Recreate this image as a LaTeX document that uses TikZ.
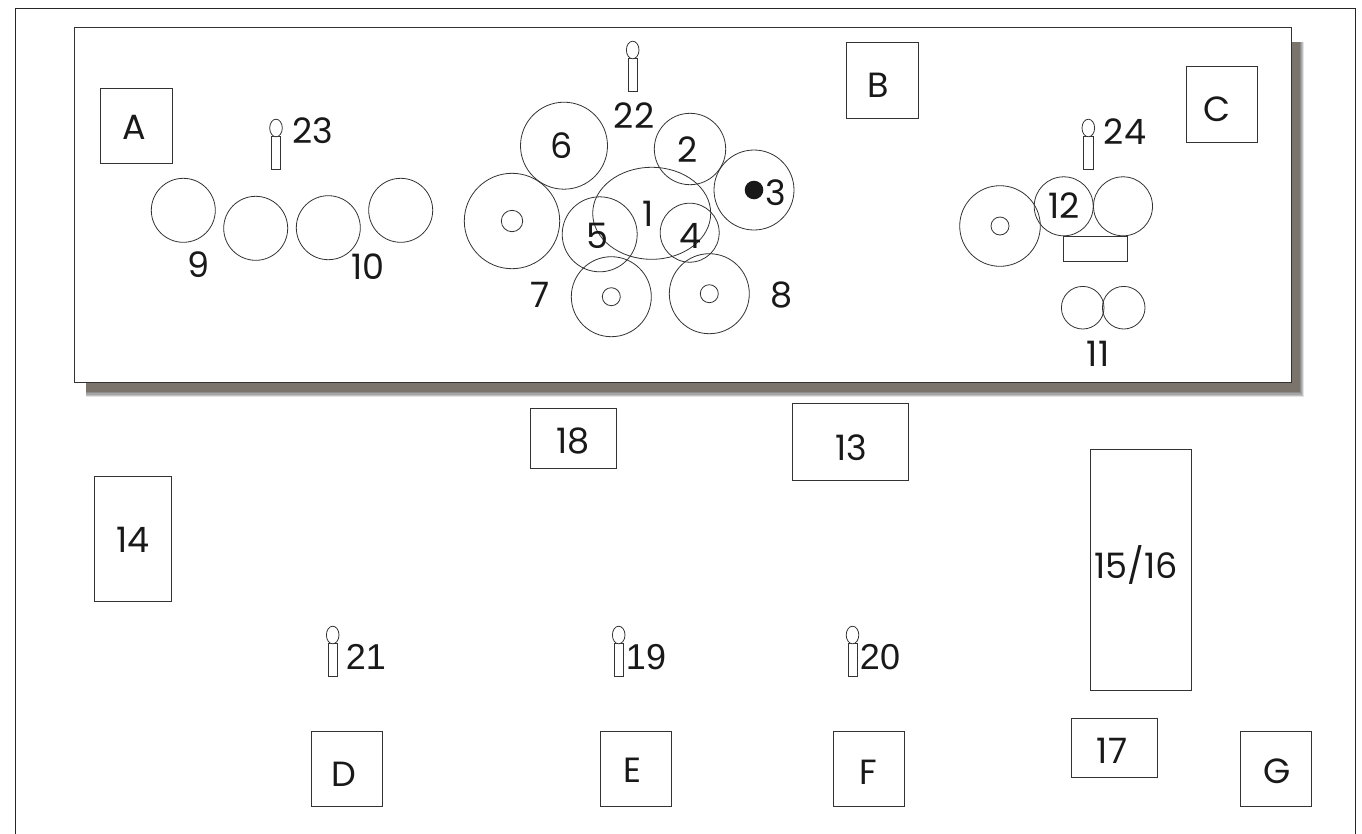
\documentclass[tikz,border=0pt]{standalone}
\usepackage{fontspec}
\setmainfont{Poppins}
\newfontfamily\arialish{Liberation Sans}
\tikzset{
  ln/.style={draw=black!80,line width=0.8pt},
  lab/.style={font=\fontsize{35}{35}\selectfont,text=black!90,inner sep=0pt},
  labb/.style={font=\arialish\fontsize{36}{36}\selectfont,text=black!90,inner sep=0pt},
}
\newcommand{\sensor}[2]{%
  \draw[ln,fill=white] (#1-4.6,#2+8) rectangle (#1+4.6,#2+41.5);
  \draw[ln,fill=white] (#1,#2) ellipse [x radius=6.3,y radius=8.8];
}
\begin{document}
\begin{tikzpicture}[x=1pt,y=-1pt]
\useasboundingbox (0,0) rectangle (1362,833);
\fill[white] (0,0) rectangle (1362,833);
% outer frame
\draw[draw=black!85,line width=0.9pt] (15,840) -- (15,8.5) -- (1355,8.5) -- (1355,840);
% shadow
\fill[black!10] (86,42) rectangle (1304,397);
\fill[black!25] (86,42) rectangle (1303,396);
\fill[black!35!white!100] (86,42) rectangle (1302,395);
\fill[black!45] (86,42) rectangle (1301,393);
\fill[black!45!brown!20!gray] (86,42) rectangle (1300,392);
% panel
\draw[ln,fill=white] (74.5,27.5) rectangle (1291,382);
% boxes
\draw[ln] (100.5,88) rectangle (172,163);
\draw[ln] (846.5,42.5) rectangle (918,118);
\draw[ln] (1186,66.5) rectangle (1257,142);
\draw[ln] (311,731) rectangle (382,806);
\draw[ln] (600,731) rectangle (671,806);
\draw[ln] (833.5,731) rectangle (904,806);
\draw[ln] (1240.5,731) rectangle (1311,806);
\draw[ln] (530,408.5) rectangle (616,468);
\draw[ln] (792.5,403.5) rectangle (908,480);
\draw[ln] (94,476.5) rectangle (171,601);
\draw[ln] (1090,449.5) rectangle (1191,690);
\draw[ln] (1071.5,718.5) rectangle (1157,777);
\draw[ln] (1063.7,236) rectangle (1127,261.7);
% rollers
\draw[ln] (564,145.7) circle (43.5);
\draw[ln] (512,221) circle (47.7);
\draw[ln] (512,221) circle (10.7);
\draw[ln] (690,149) circle (35.7);
\draw[ln] (754,190) circle (40);
\fill[black!90] (754,190) circle (9.3);
\draw[ln] (651.7,213.3) ellipse [x radius=59,y radius=46];
\draw[ln] (599.7,234.3) circle (37.5);
\draw[ln] (689.7,232.7) circle (29.5);
\draw[ln] (611.3,296.7) circle (40);
\draw[ln] (611.3,296.7) circle (9);
\draw[ln] (709.3,293.7) circle (40);
\draw[ln] (709.3,293.7) circle (9);
\draw[ln] (1000,226) circle (40.3);
\draw[ln] (1000,226) circle (9);
\draw[ln] (1063.7,206.3) circle (29.5);
\draw[ln] (1123,206.3) circle (29.5);
\draw[ln] (1082.7,307.7) circle (21.3);
\draw[ln] (1123.7,307.7) circle (21.3);
\draw[ln] (183.3,210.3) circle (32);
\draw[ln] (255.7,228.3) circle (32);
\draw[ln] (328.3,227.7) circle (32);
\draw[ln] (400.7,210.3) circle (32);
% sensors
\sensor{632.7}{50}
\sensor{1088.3}{128}
\sensor{276}{128}
\sensor{332.7}{635}
\sensor{618.7}{635}
\sensor{852.5}{635}
% labels
\node[lab] (lA) at (134,127) {A};
\node[lab] (lB) at (878,85) {B};
\node[lab] (lC) at (1217,109) {C};
\node[lab] (lD) at (344,774) {D};
\node[lab] (lE) at (632,770) {E};
\node[lab] (lF) at (868,772) {F};
\node[lab] (lG) at (1277,771) {G};
\node[lab] (n1) at (648,214) {1};
\node[lab] (n2) at (688,150) {2};
\node[lab] (n3) at (776,193) {3};
\node[lab] (n4) at (690,236) {4};
\node[lab] (n5) at (597,236) {5};
\node[lab] (n6) at (562,146) {6};
\node[lab] (n7) at (540,295) {7};
\node[lab] (n8) at (782,295) {8};
\node[lab] (n9) at (199,265) {9};
\node[lab] (n10) at (368,267) {10};
\node[lab] (n11) at (1098,354) {11};
\node[lab] (n12) at (1064,206) {12};
\node[lab] (n13) at (851,448) {13};
\node[lab] (n14) at (133,540) {14};
\node[lab] (n1516) at (1136,565) {15/16};
\node[lab] (n17) at (1112,751) {17};
\node[lab] (n18) at (573,441) {18};
\node[labb] (n19) at (646,657) {19};
\node[labb] (n20) at (880,657) {20};
\node[labb] (n21) at (366,657) {21};
\node[lab] (n22) at (634,116) {22};
\node[lab] (n23) at (313,131) {23};
\node[lab] (n24) at (1125,132) {24};
\end{tikzpicture}
\end{document}
